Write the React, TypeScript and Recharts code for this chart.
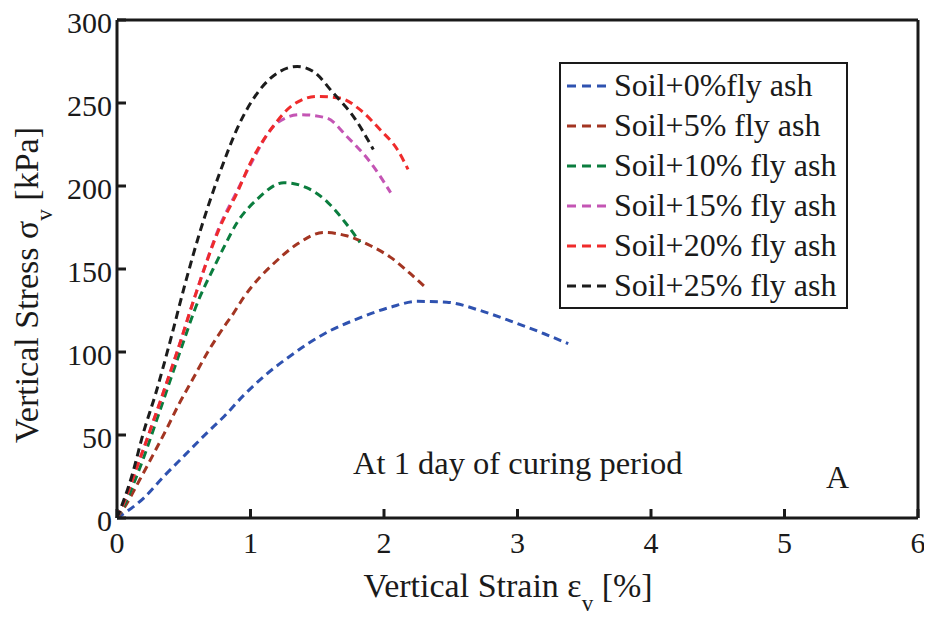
import { LineChart, Line, XAxis, YAxis, Legend } from 'recharts';

// strain [%] / stress [kPa] read per mix
const strain0 = [0, 0.2, 0.35, 0.51, 0.67, 0.8, 0.95, 1.11, 1.27, 1.43, 1.6, 1.77, 2.05, 2.25, 2.47, 2.72, 2.97, 3.2, 3.38];
const stress0 = [0, 12, 25, 38, 51, 61, 74, 86, 96, 105, 113, 119, 127, 130.5, 130, 125, 118, 111, 105];

const strain5 = [0, 0.06, 0.17, 0.27, 0.38, 0.46, 0.57, 0.68, 0.8, 0.87, 0.95, 1.07, 1.17, 1.35, 1.55, 1.72, 1.9, 2.05, 2.2, 2.31];
const stress5 = [0, 7, 23, 38, 55, 68, 84, 100, 115, 123, 133, 145, 153, 165, 172, 170, 164, 157, 147, 139];

const strain10 = [0, 0.05, 0.17, 0.31, 0.45, 0.62, 0.72, 0.8, 0.9, 1.05, 1.25, 1.42, 1.58, 1.71, 1.82];
const stress10 = [0, 7, 30, 62, 95, 133, 150, 163, 178, 192, 202, 199, 190, 178, 166];

const strain15 = [0, 0.05, 0.16, 0.31, 0.45, 0.59, 0.77, 0.9, 1.0, 1.2, 1.37, 1.57, 1.72, 1.9, 2.05];
const stress15 = [0, 9, 33, 67, 100, 135, 176, 197, 213, 238, 243, 241, 230, 214, 196];

const strain20 = [0, 0.05, 0.16, 0.31, 0.45, 0.59, 0.77, 0.9, 1.0, 1.17, 1.32, 1.5, 1.67, 1.82, 1.97, 2.1, 2.18];
const stress20 = [0, 9, 33, 67, 100, 135, 175, 196, 214, 236, 249, 254, 253, 246, 234, 222, 210];

const strain25 = [0, 0.11, 0.2, 0.29, 0.4, 0.51, 0.62, 0.77, 0.92, 1.07, 1.22, 1.35, 1.47, 1.62, 1.77, 1.92];
const stress25 = [0, 25, 52, 75, 107, 141, 172, 208, 238, 258, 269, 272, 269, 256, 242, 222];

const seriesNames = [
    'Soil+0%fly ash',
    'Soil+5% fly ash',
    'Soil+10% fly ash',
    'Soil+15% fly ash',
    'Soil+20% fly ash',
    'Soil+25% fly ash',
];
const seriesColors = ['#2f52b0', '#a33522', '#0b7d3e', '#c455b4', '#ef2b2b', '#1c1c1c'];

const xTicks = [0, 1, 2, 3, 4, 5, 6];
const yTicks = [0, 50, 100, 150, 200, 250, 300];

const toPoints = (xs: number[], ys: number[]) => xs.map((x, i) => ({ strain: x, stress: ys[i] }));

const series = [
    toPoints(strain0, stress0),
    toPoints(strain5, stress5),
    toPoints(strain10, stress10),
    toPoints(strain15, stress15),
    toPoints(strain20, stress20),
    toPoints(strain25, stress25),
];

const FONT = '"Liberation Serif", "Times New Roman", serif';

// boxed legend, kept in series order (recharts sorts payload by name otherwise)
const LegendBox = () => (
    <svg width={289} height={247} style={{ display: 'block' }}>
        <rect x={1} y={1} width={287} height={245} fill="#fff" stroke="#1a1a1a" strokeWidth={2} />
        {seriesNames.map((name, i) => {
            const cy = 24 + i * 40;
            return (
                <g key={name}>
                    <line x1={8} x2={51} y1={cy} y2={cy} stroke={seriesColors[i]} strokeWidth={3} strokeDasharray="9 6" />
                    <text x={55} y={cy + 10} fontFamily={FONT} fontSize={32} fill="#1a1a1a">
                        {name}
                    </text>
                </g>
            );
        })}
    </svg>
);

const StressStrainChart = () => {
    return (
        <div style={{ margin: -8, width: 932, height: 619, background: '#fff' }}>
            <LineChart width={932} height={619} margin={{ top: 19, right: 13, bottom: 0, left: 0 }}>
                <XAxis
                    xAxisId="bottom"
                    type="number"
                    dataKey="strain"
                    domain={[0, 6]}
                    ticks={xTicks}
                    height={101}
                    tickSize={-9}
                    tickMargin={23}
                    stroke="#1a1a1a"
                    strokeWidth={3}
                    tick={{ fontFamily: FONT, fontSize: 30, fill: '#1a1a1a' }}
                />
                <XAxis
                    xAxisId="top"
                    orientation="top"
                    type="number"
                    dataKey="strain"
                    domain={[0, 6]}
                    ticks={xTicks}
                    height={1}
                    tickSize={-9}
                    tick={false}
                    stroke="#1a1a1a"
                    strokeWidth={3}
                />
                <YAxis
                    yAxisId="left"
                    type="number"
                    domain={[0, 300]}
                    ticks={yTicks}
                    width={117}
                    tickSize={-9}
                    tickMargin={14}
                    stroke="#1a1a1a"
                    strokeWidth={3}
                    tick={{ fontFamily: FONT, fontSize: 30, fill: '#1a1a1a', dy: 2 }}
                />
                <YAxis
                    yAxisId="right"
                    orientation="right"
                    type="number"
                    domain={[0, 300]}
                    ticks={yTicks}
                    width={1}
                    tickSize={-9}
                    tick={false}
                    stroke="#1a1a1a"
                    strokeWidth={3}
                />
                {series.map((pts, i) => (
                    <Line
                        key={seriesNames[i]}
                        xAxisId="bottom"
                        yAxisId="left"
                        data={pts}
                        dataKey="stress"
                        name={seriesNames[i]}
                        type="monotone"
                        stroke={seriesColors[i]}
                        strokeWidth={3}
                        strokeDasharray="8 5"
                        dot={false}
                        isAnimationActive={false}
                    />
                ))}
                <Legend
                    layout="vertical"
                    align="center"
                    verticalAlign="middle"
                    content={<LegendBox />}
                    wrapperStyle={{ position: 'absolute', left: 559, top: 62, width: 289, height: 247 }}
                />
                <text x={353} y={474} fontFamily={FONT} fontSize={32.5} fill="#1a1a1a">
                    At 1 day of curing period
                </text>
                <text x={826} y={488} fontFamily={FONT} fontSize={32} fill="#1a1a1a">
                    A
                </text>
                <text x={508} y={597} textAnchor="middle" fontFamily={FONT} fontSize={34} fill="#1a1a1a">
                    Vertical Strain ε
                    <tspan dy={14} fontSize={23}>v</tspan>
                    <tspan dy={-14}> [%]</tspan>
                </text>
                <text
                    transform="translate(38,285) rotate(-90)"
                    textAnchor="middle"
                    fontFamily={FONT}
                    fontSize={34}
                    fill="#1a1a1a"
                >
                    Vertical Stress σ
                    <tspan dy={14} fontSize={23}>v</tspan>
                    <tspan dy={-14}> [kPa]</tspan>
                </text>
            </LineChart>
        </div>
    );
};

export default StressStrainChart;
